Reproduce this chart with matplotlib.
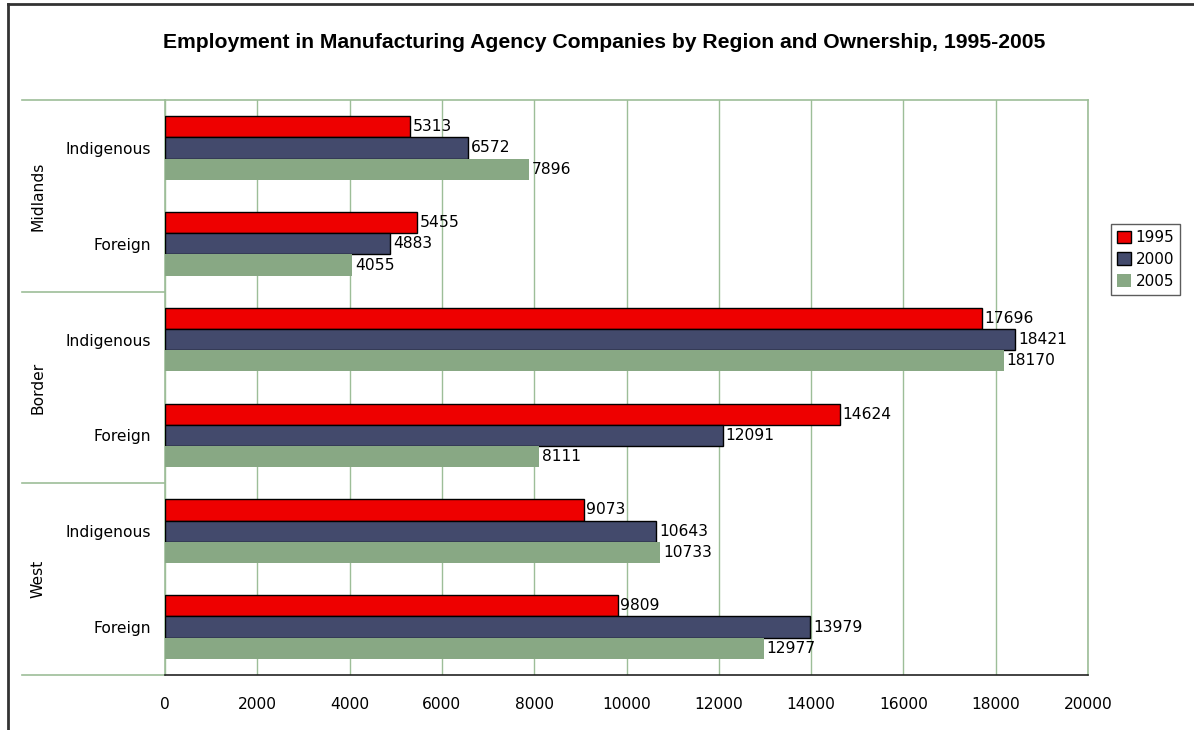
import matplotlib.pyplot as plt
from matplotlib.lines import Line2D
from matplotlib.patches import Patch
import numpy as np

regions = ["Midlands", "Border", "West"]
ownership = ["Indigenous", "Foreign"]
years = ["1995", "2000", "2005"]

# one value per (region, ownership) row, top to bottom
emp_1995 = [5313, 5455, 17696, 14624, 9073, 9809]
emp_2000 = [6572, 4883, 18421, 12091, 10643, 13979]
emp_2005 = [7896, 4055, 18170, 8111, 10733, 12977]

colors = ["#ee0000", "#434a6c", "#88a884"]
edges = ["black", "black", "none"]
grid_col = "#9dbe98"

fig = plt.figure(figsize=(11.94, 7.30), dpi=100)
ax = fig.add_axes([165 / 1194, 55 / 730, 923 / 1194, 575 / 730])

n = len(emp_1995)
pos = np.arange(n)
h = 0.222
series = [emp_1995, emp_2000, emp_2005]
for k, vals in enumerate(series):
    y = pos + (k - 1) * h
    ax.barh(y, vals, height=h, color=colors[k], edgecolor=edges[k],
            linewidth=1.0, zorder=3, label=years[k])
    for yy, v in zip(y, vals):
        ax.text(v + 60, yy, str(v), va="center", ha="left", fontsize=11.2,
                zorder=4)

ax.set_xlim(0, 20000)
ax.set_ylim(n - 0.5, -0.5)
ax.set_xticks(np.arange(0, 20001, 2000))
ax.xaxis.grid(True, color=grid_col, linewidth=1.0, zorder=0)
ax.tick_params(axis="x", length=0, pad=16, labelsize=11.2)
ax.set_yticks(pos)
ax.set_yticklabels(ownership * len(regions), fontsize=11.2)
ax.tick_params(axis="y", length=0, pad=10)

for s in ["top", "right", "left"]:
    ax.spines[s].set_color(grid_col)
    ax.spines[s].set_linewidth(1.2)
ax.spines["bottom"].set_color("#222222")
ax.spines["bottom"].set_linewidth(1.2)

# region separators and labels to the left of the axes
for b in [-0.5, 1.5, 3.5, 5.5]:
    ax.plot([-0.155, 0], [b, b], transform=ax.get_yaxis_transform(),
            color=grid_col, linewidth=1.2, clip_on=False)
for i, r in enumerate(regions):
    ax.text(-0.138, 2 * i + 0.5, r, transform=ax.get_yaxis_transform(),
            rotation=90, ha="center", va="center", fontsize=11.2)

handles = [Patch(facecolor=colors[k], edgecolor=edges[k], label=years[k])
           for k in range(3)]
leg = fig.legend(handles=handles, loc="upper left",
                 bbox_to_anchor=(1111 / 1194, 1 - 224 / 730), fontsize=11,
                 frameon=True, fancybox=False, handlelength=0.9,
                 handleheight=0.9, handletextpad=0.3, borderpad=0.4,
                 labelspacing=0.45, borderaxespad=0)
leg.get_frame().set_edgecolor("#333333")
leg.get_frame().set_linewidth(1.0)

fig.text(604 / 1194, 1 - 42 / 730,
         "Employment in Manufacturing Agency Companies by Region and Ownership, 1995-2005",
         ha="center", va="center", fontsize=15.2, fontweight="bold",
         family="Liberation Sans")

# outer frame
fig.add_artist(Line2D([8 / 1194, 8 / 1194], [0, 1 - 4 / 730],
                      transform=fig.transFigure, color="#333333", linewidth=2))
fig.add_artist(Line2D([8 / 1194, 1], [1 - 4 / 730, 1 - 4 / 730],
                      transform=fig.transFigure, color="#333333", linewidth=2))

fig.savefig("out.png", dpi=100)
